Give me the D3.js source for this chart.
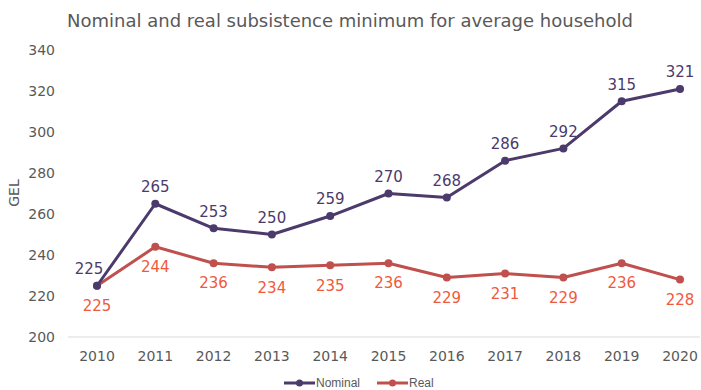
<!DOCTYPE html>
<meta charset="utf-8">
<style>
html, body { margin: 0; padding: 0; overflow: hidden; background: #fff; }
svg { display: block; font-family: "DejaVu Sans", sans-serif; }
</style>
<svg width="701" height="390"></svg>
<script src="https://d3js.org/d3.v7.min.js"></script>
<script>

var years = [2010, 2011, 2012, 2013, 2014, 2015, 2016, 2017, 2018, 2019, 2020];
var nominal = [225, 265, 253, 250, 259, 270, 268, 286, 292, 315, 321];
var real = [225, 244, 236, 234, 235, 236, 229, 231, 229, 236, 228];
var yTicks = [200, 220, 240, 260, 280, 300, 320, 340];

var svg = d3.select("svg");

var x = d3.scalePoint()
    .domain(years)
    .range([97, 680]);

var y = d3.scaleLinear()
    .domain([200, 340])
    .range([337, 50]);

svg.append("text")
    .attr("x", 350)
    .attr("y", 27)
    .attr("text-anchor", "middle")
    .attr("fill", "#595959")
    .style("font-size", "18px")
    .text("Nominal and real subsistence minimum for average household");

// axis baseline
svg.append("line")
    .attr("x1", 68).attr("x2", 700)
    .attr("y1", y(200)).attr("y2", y(200))
    .attr("stroke", "#d9d9d9");

svg.append("g").selectAll("text")
  .data(yTicks)
  .enter().append("text")
    .attr("x", 55)
    .attr("y", function(d) { return y(d); })
    .attr("dy", "0.35em")
    .attr("text-anchor", "end")
    .attr("fill", "#595959")
    .style("font-size", "14px")
    .text(function(d) { return d; });

svg.append("g").selectAll("text")
  .data(years)
  .enter().append("text")
    .attr("x", function(d) { return x(d); })
    .attr("y", 361)
    .attr("text-anchor", "middle")
    .attr("fill", "#595959")
    .style("font-size", "14px")
    .text(function(d) { return d; });

svg.append("text")
    .attr("transform", "translate(19,193) rotate(-90)")
    .attr("text-anchor", "middle")
    .attr("fill", "#595959")
    .style("font-size", "14px")
    .text("GEL");

function drawSeries(values, lineColor, labelColor, labelDy, firstDx) {
  var pts = years.map(function(yr, i) { return [x(yr), y(values[i])]; });
  svg.append("path")
      .attr("d", d3.line()(pts))
      .attr("fill", "none")
      .attr("stroke", lineColor)
      .attr("stroke-width", 3)
      .attr("stroke-linejoin", "round");
  svg.append("g").selectAll("circle")
    .data(pts)
    .enter().append("circle")
      .attr("cx", function(d) { return d[0]; })
      .attr("cy", function(d) { return d[1]; })
      .attr("r", 4)
      .attr("fill", lineColor);
  svg.append("g").selectAll("text")
    .data(values)
    .enter().append("text")
      .attr("x", function(d, i) { return x(years[i]) + (i === 0 ? firstDx : 0); })
      .attr("y", function(d) { return y(d) + labelDy; })
      .attr("dy", "0.35em")
      .attr("text-anchor", "middle")
      .attr("fill", labelColor)
      .style("font-size", "15px")
      .text(function(d) { return d; });
}

drawSeries(real, "#c0504d", "#f05a3c", 20, 0);
// first nominal label is nudged left so it clears the red line
drawSeries(nominal, "#4b3a6b", "#4b3a6b", -17, -8);

// legend
var legend = [
  { name: "Nominal", color: "#4b3a6b", x: 284 },
  { name: "Real", color: "#c0504d", x: 377 }
];
var lg = svg.append("g").selectAll("g")
  .data(legend)
  .enter().append("g")
    .attr("transform", function(d) { return "translate(" + d.x + ",383)"; });
lg.append("line")
    .attr("x1", 0).attr("x2", 31)
    .attr("stroke", function(d) { return d.color; })
    .attr("stroke-width", 3);
lg.append("circle")
    .attr("cx", 15.5)
    .attr("r", 3.5)
    .attr("fill", function(d) { return d.color; });
lg.append("text")
    .attr("x", 32)
    .attr("dy", "0.35em")
    .attr("fill", "#595959")
    .style("font-family", "'Liberation Sans Narrow', 'Liberation Sans', sans-serif")
    .style("font-size", "12px")
    .text(function(d) { return d.name; });

</script>
